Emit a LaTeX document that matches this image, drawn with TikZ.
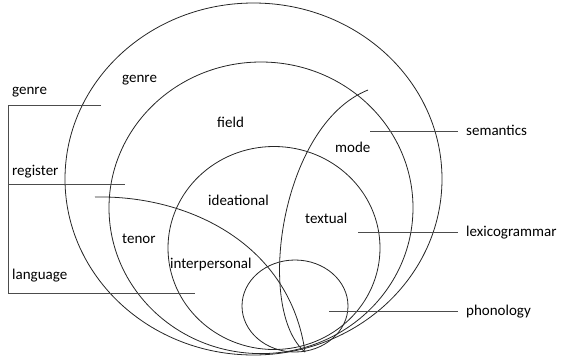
\documentclass[tikz,border=0pt]{standalone}
\usepackage{fontspec}
\setmainfont{Carlito}
\begin{document}
\begin{tikzpicture}[x=1pt,y=-1pt,
  ring/.style={draw=black!85, line width=0.8pt},
  leader/.style={draw=black!70, line width=0.9pt},
  lbl/.style={anchor=base west, inner sep=0pt, font=\fontsize{15}{18}\selectfont, text=black}]
\useasboundingbox (0,0) rectangle (563,357);
% rings
\draw[ring] (253.5,179) ellipse [x radius=188.5pt, y radius=176pt];
\draw[ring] (261,207.8) ellipse [x radius=152pt, y radius=145.8pt];
\draw[ring] (274,248) ellipse [x radius=106pt, y radius=101.5pt];
\draw[ring] (295,306) ellipse [x radius=53pt, y radius=46pt];
% dividing curves
\coordinate (bot) at (305,352);
\coordinate (modeTop) at (368,90);
\coordinate (tenorL) at (95,197);
\draw[ring] (modeTop) .. controls (280,125) and (255,310) .. (bot);
\draw[ring] (tenorL) .. controls (190,195) and (290,245) .. (bot);
% inner labels
\node[lbl] (igenre) at (122,82) {genre};
\node[lbl] (field) at (217,127) {field};
\node[lbl] (mode) at (335,152) {mode};
\node[lbl] (ideat) at (208,205) {ideational};
\node[lbl] (textual) at (305,223) {textual};
\node[lbl] (tenor) at (122,243) {tenor};
\node[lbl] (interp) at (170,268) {interpersonal};
% left labels and bracket
\node[lbl] (lgenre) at (12,94) {genre};
\node[lbl] (lreg) at (12,175) {register};
\node[lbl] (llang) at (12,279) {language};
\coordinate (bTop) at (8,105);
\coordinate (bMid) at (8,184);
\coordinate (bBot) at (8,293);
\coordinate (gEnd) at (101,105);
\coordinate (rEnd) at (125,184);
\coordinate (lEnd) at (195,293);
\draw[leader] (gEnd) -- (bTop) -- (bBot) -- (lEnd);
\draw[leader] (bMid) -- (rEnd);
% right labels
\node[lbl] (sem) at (466,135) {semantics};
\node[lbl] (lex) at (466,236) {lexicogrammar};
\node[lbl] (pho) at (466,315) {phonology};
\coordinate (semS) at (370,131);
\coordinate (lexS) at (358,232);
\coordinate (phoS) at (329,311);
\draw[leader] (semS) -- ([xshift=-8pt]sem.west |- semS);
\draw[leader] (lexS) -- ([xshift=-8pt]lex.west |- lexS);
\draw[leader] (phoS) -- ([xshift=-8pt]pho.west |- phoS);
\end{tikzpicture}
\end{document}
